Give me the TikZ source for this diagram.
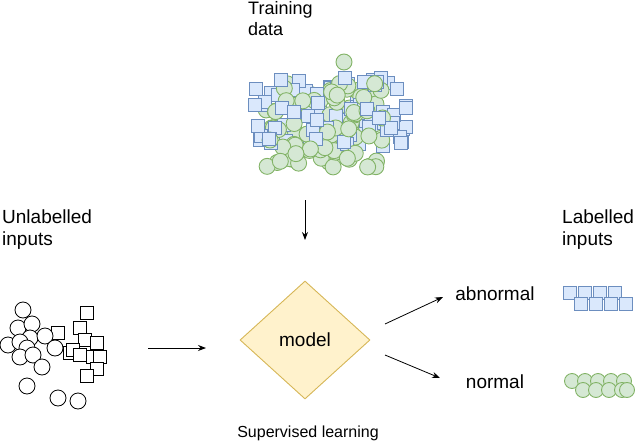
\documentclass[tikz,border=0pt]{standalone}
\usepackage{fontspec}
\setmainfont{Liberation Sans}
\usetikzlibrary{shapes.geometric,arrows.meta}
\definecolor{bfill}{HTML}{DAE8FC}\definecolor{bdraw}{HTML}{6C8EBF}
\definecolor{gfill}{HTML}{D5E8D4}\definecolor{gdraw}{HTML}{82B366}
\definecolor{yfill}{HTML}{FFF2CC}\definecolor{ydraw}{HTML}{D6B656}
\begin{document}
\begin{tikzpicture}[x=1pt,y=-1pt,
  bsq/.style={draw=bdraw,fill=bfill,line width=0.9pt,minimum size=13pt,inner sep=0pt,rectangle},
  gci/.style={draw=gdraw,fill=gfill,line width=0.9pt,minimum size=16pt,inner sep=0pt,circle},
  ksq/.style={draw=black,fill=white,line width=0.8pt,minimum size=13pt,inner sep=0pt,rectangle},
  kci/.style={draw=black,fill=white,line width=0.8pt,minimum size=16pt,inner sep=0pt,circle},
  lbl/.style={font=\fontsize{19pt}{22pt}\selectfont,align=left,anchor=north west,inner sep=0pt},
  big/.style={font=\fontsize{19pt}{22pt}\selectfont},
  arr/.style={-{Stealth[length=8pt,width=6pt]},line width=0.8pt}]
\useasboundingbox (0,0) rectangle (640,442);
\node[lbl,font=\fontsize{18pt}{21pt}\selectfont] (tl) at (248,1) {Training\\data};
\node[lbl] (ul) at (2,210) {Unlabelled\\inputs};
\node[lbl] (ll) at (562,210) {Labelled\\inputs};
% training cluster
\pgfmathsetseed{7}
\foreach \i in {1,...,90}{
  \pgfmathsetmacro{\ax}{330+78*rand}\pgfmathsetmacro{\ay}{112+34*rand}
  \node[bsq] (s\i) at (\ax,\ay) {};
  \pgfmathsetmacro{\cx}{325+62*rand}\pgfmathsetmacro{\cy}{125+42*rand}
  \node[gci] (c\i) at (\cx,\cy) {};
}
\node[gci] (ct) at (344,62) {};
% unlabelled
\foreach \p [count=\k] in {(87,313),(58,333),(80,328),(85,340),(97,343),(70,353),(73,350),(80,355),(93,357),(100,357),(97,369),(87,376)}
  \node[ksq] (k\k) at \p {};
\foreach \p [count=\k] in {(23,310),(18,328),(32,324),(30,338),(8,345),(20,342),(45,336),(27,348),(20,357),(33,355),(42,367),(55,348),(27,386),(58,398),(78,401)}
  \node[kci] (u\k) at \p {};
% model
\node[diamond,draw=ydraw,fill=yfill,line width=0.9pt,minimum width=130pt,minimum height=118pt,inner sep=0pt,big] (m) at (305,340) {model};
\node[font=\fontsize{16pt}{18pt}\selectfont] (sl) at (308,433) {Supervised learning};
\coordinate (t1) at (305,200); \coordinate (t2) at (305,240);
\draw[arr] (t1) -- (t2);
\coordinate (h1) at (148,348); \coordinate (h2) at (206,348);
\draw[arr] (h1) -- (h2);
\node[big] (ab) at (495,294) {abnormal};
\node[big] (no) at (495,382) {normal};
\coordinate (d1) at (385,324); \coordinate (d2) at (443,297);
\draw[arr] (d1) -- (d2);
\coordinate (e1) at (385,355); \coordinate (e2) at (440,378);
\draw[arr] (e1) -- (e2);
% labelled
\foreach \x [count=\k] in {570,585,600,615} \node[bsq] (la\k) at (\x,293) {};
\foreach \x [count=\k] in {581,596,611,626} \node[bsq] (lb\k) at (\x,304) {};
\foreach \x [count=\k] in {572,585,598,611,624} \node[gci,minimum size=15pt] (ga\k) at (\x,381) {};
\foreach \x [count=\k] in {583,596,609,622,627} \node[gci,minimum size=15pt] (gb\k) at (\x,390) {};
\end{tikzpicture}
\end{document}
